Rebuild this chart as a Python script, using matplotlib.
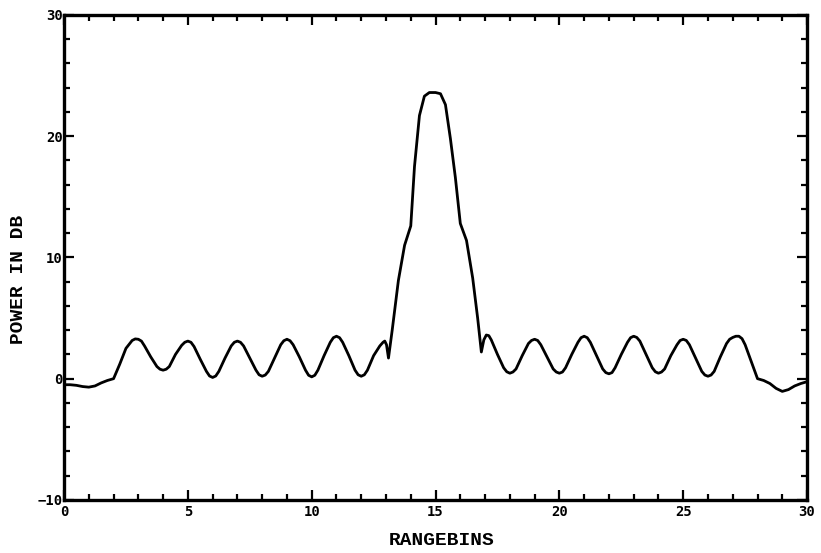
import matplotlib.pyplot as plt
from matplotlib.ticker import MultipleLocator

# range bin positions and power (dB)
rangebins = [
    0.0, 0.25, 0.5, 0.75, 1.0, 1.25, 1.5, 1.75, 2.0, 2.25, 2.5, 2.75, 2.875,
    3.0, 3.125, 3.25, 3.5, 3.75, 3.875, 4.0, 4.125, 4.25, 4.5, 4.75, 4.875,
    5.0, 5.125, 5.25, 5.5, 5.75, 5.875, 6.0, 6.125, 6.25, 6.5, 6.75, 6.875,
    7.0, 7.125, 7.25, 7.5, 7.75, 7.875, 8.0, 8.125, 8.25, 8.5, 8.75, 8.875,
    9.0, 9.125, 9.25, 9.5, 9.75, 9.875, 10.0, 10.125, 10.25, 10.5, 10.75, 10.875,
    11.0, 11.125, 11.25, 11.5, 11.75, 11.875, 12.0, 12.125, 12.25, 12.5, 12.75,
    12.88, 12.95, 13.02, 13.1, 13.25, 13.5, 13.75, 14.0,
    14.15, 14.35, 14.55, 14.75, 15.0, 15.2, 15.4, 15.6, 15.8, 16.0,
    16.25, 16.5, 16.7, 16.85, 16.95, 17.05, 17.15, 17.25, 17.5, 17.75, 17.875,
    18.0, 18.125, 18.25, 18.5, 18.75, 18.875, 19.0, 19.125, 19.25, 19.5, 19.75, 19.875,
    20.0, 20.125, 20.25, 20.5, 20.75, 20.875, 21.0, 21.125, 21.25, 21.5, 21.75, 21.875,
    22.0, 22.125, 22.25, 22.5, 22.75, 22.875, 23.0, 23.125, 23.25, 23.5, 23.75, 23.875,
    24.0, 24.125, 24.25, 24.5, 24.75, 24.875, 25.0, 25.125, 25.25, 25.5, 25.75, 25.875,
    26.0, 26.125, 26.25, 26.5, 26.75, 26.875, 27.0, 27.125, 27.25, 27.375, 27.5, 27.75,
    28.0, 28.25, 28.5, 28.75, 29.0, 29.25, 29.5, 29.75, 30.0,
]
power_db = [
    -0.5, -0.5, -0.55, -0.65, -0.7, -0.6, -0.35, -0.15, 0.0, 1.2, 2.5, 3.15, 3.28,
    3.25, 3.1, 2.7, 1.8, 1.0, 0.78, 0.7, 0.78, 1.0, 2.0, 2.75, 3.0,
    3.1, 3.0, 2.65, 1.6, 0.6, 0.22, 0.1, 0.22, 0.6, 1.7, 2.7, 3.0,
    3.1, 3.0, 2.7, 1.7, 0.7, 0.32, 0.2, 0.3, 0.6, 1.7, 2.8, 3.13,
    3.25, 3.13, 2.8, 1.8, 0.7, 0.28, 0.15, 0.28, 0.7, 1.9, 3.0, 3.38,
    3.5, 3.38, 3.0, 1.9, 0.7, 0.32, 0.2, 0.32, 0.7, 1.9, 2.7,
    3.0, 3.1, 2.8, 1.7, 4.0, 8.1, 11.0, 12.6,
    17.5, 21.7, 23.3, 23.6, 23.6, 23.5, 22.6, 19.8, 16.6, 12.8,
    11.4, 8.3, 5.0, 2.2, 3.2, 3.6, 3.55, 3.2, 2.0, 0.9, 0.57,
    0.45, 0.55, 0.8, 1.9, 2.9, 3.15, 3.25, 3.15, 2.8, 1.8, 0.8, 0.55,
    0.45, 0.55, 0.9, 2.0, 3.0, 3.38, 3.5, 3.38, 3.0, 1.9, 0.8, 0.5,
    0.4, 0.5, 0.9, 2.0, 3.0, 3.38, 3.5, 3.4, 3.1, 2.0, 0.9, 0.57,
    0.45, 0.55, 0.8, 1.9, 2.8, 3.15, 3.25, 3.15, 2.8, 1.7, 0.6, 0.3,
    0.2, 0.3, 0.6, 1.8, 2.9, 3.25, 3.4, 3.5, 3.5, 3.3, 2.8, 1.4,
    0.0, -0.15, -0.4, -0.8, -1.05, -0.9, -0.6, -0.4, -0.25,
]

x_major = [0, 5, 10, 15, 20, 25, 30]
y_major = [-10, 0, 10, 20, 30]

TICK_FONT = "DejaVu Sans Mono"
LABEL_FONT = "Liberation Mono"

fig = plt.figure(figsize=(8.21, 5.53), dpi=100)
ax = fig.add_axes([0.078, 0.096, 0.905, 0.877])

ax.plot(rangebins, power_db, color="black", linewidth=2.0,
        solid_joinstyle="round", solid_capstyle="round")

ax.set_xlim(0, 30)
ax.set_ylim(-10, 30)
ax.set_xticks(x_major)
ax.set_yticks(y_major)
ax.xaxis.set_minor_locator(MultipleLocator(1))
ax.yaxis.set_minor_locator(MultipleLocator(2))

ax.tick_params(which="both", direction="in", top=True, right=True,
               color="black", width=1.6)
ax.tick_params(which="major", length=7)
ax.tick_params(which="minor", length=4)
ax.tick_params(axis="x", which="major", pad=4)
ax.tick_params(axis="y", which="major", pad=1)

for lab in ax.get_xticklabels() + ax.get_yticklabels():
    lab.set_fontfamily(TICK_FONT)
    lab.set_fontweight("bold")
    lab.set_fontsize(10)

for s in ax.spines.values():
    s.set_linewidth(2.4)
    s.set_color("black")

ax.set_xlabel("RANGEBINS", fontfamily=LABEL_FONT, fontweight="bold",
              fontsize=14)
ax.xaxis.set_label_coords(0.508, -0.066)
ax.set_ylabel("POWER IN DB", fontfamily=LABEL_FONT, fontweight="bold",
              fontsize=14)
ax.yaxis.set_label_coords(-0.05, 0.454)

fig.savefig("out.png", dpi=100)
